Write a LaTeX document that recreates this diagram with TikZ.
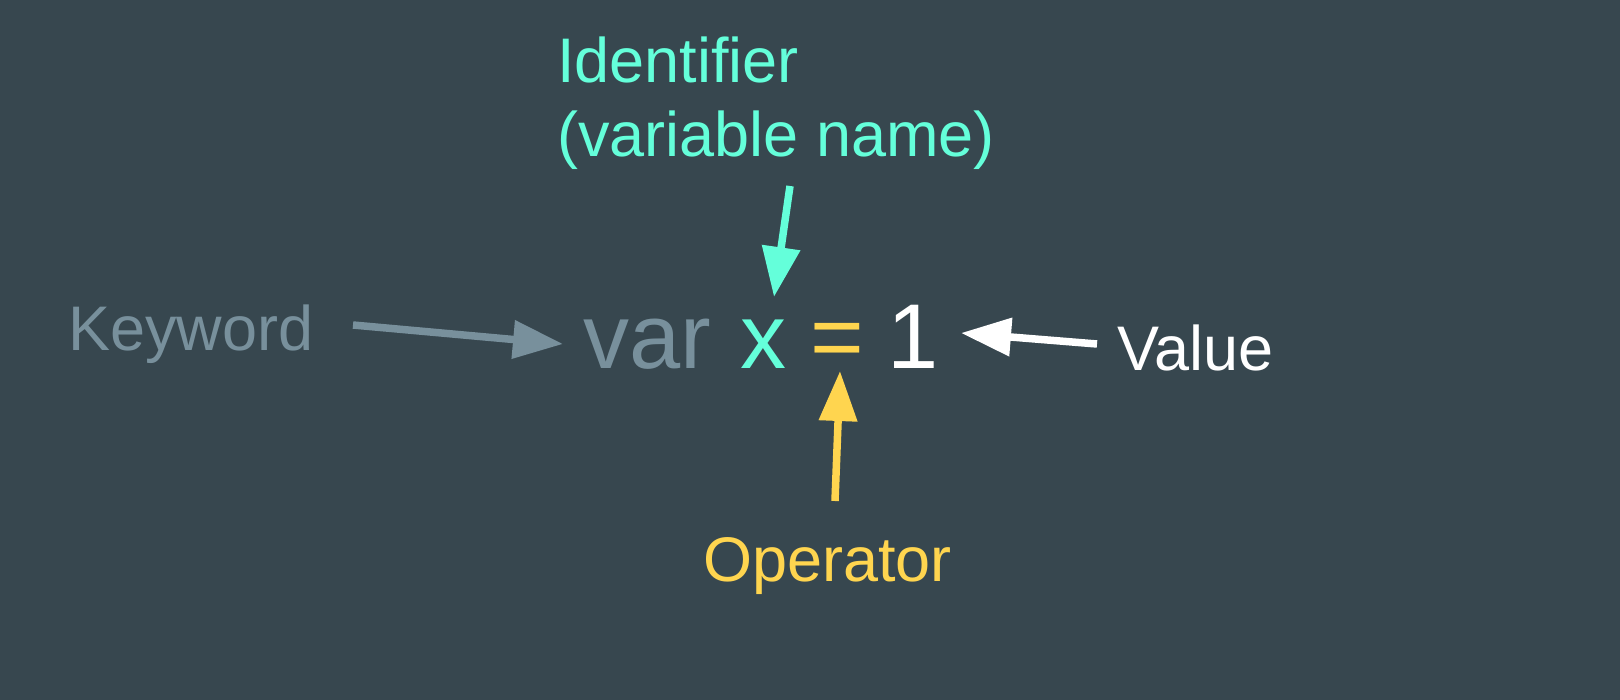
\documentclass[tikz,border=0pt]{standalone}
\usepackage{fontspec}
\setmainfont{Liberation Sans}
\usetikzlibrary{arrows.meta}
\definecolor{bg}{HTML}{37474F}
\definecolor{kwc}{HTML}{78909C}
\definecolor{idc}{HTML}{64FFDA}
\definecolor{opc}{HTML}{FFD54F}
\definecolor{valc}{HTML}{FFFFFF}
\tikzset{
  lbl/.style={anchor=base west, inner sep=0pt, font=\fontsize{63}{73}\selectfont},
  code/.style={anchor=base west, inner sep=0pt, font=\fontsize{92}{100}\selectfont},
  arr/.style={line width=7.5pt, -{Triangle[length=50pt,width=37pt]}}
}
\begin{document}
\begin{tikzpicture}[x=1pt,y=-1pt]
\fill[bg] (0,0) rectangle (1620,700);
\useasboundingbox (0,0) rectangle (1620,700);
% labels
\node[lbl, text=kwc] (kw) at (68,351) {Keyword};
\node[lbl, text=idc] (idA) at (557,83) {Identifier};
\node[lbl, text=idc] (idB) at (557,157) {(variable name)};
\node[lbl, text=opc] (op) at (703,581) {Operator};
\node[lbl, text=valc] (val) at (1117,371) {Value};
% code
\node[code, text=kwc] (var) at (583,369) {var};
\node[code, text=idc] (xx) at (740,369) {x};
\node[code, text=opc] (eq) at (810,369) {=};
\node[code, text=valc] (one) at (887,369) {1};
% arrow end points
\coordinate (kwS) at (353,325);
\coordinate (kwE) at (563,344);
\coordinate (idS) at (790,186);
\coordinate (idE) at (774,297);
\coordinate (opS) at (835,501);
\coordinate (opE) at (840,371);
\coordinate (valS) at (1097,344);
\coordinate (valE) at (961,333);
\draw[arr, kwc] (kwS) -- (kwE);
\draw[arr, idc] (idS) -- (idE);
\draw[arr, opc] (opS) -- (opE);
\draw[arr, valc] (valS) -- (valE);
\end{tikzpicture}
\end{document}
